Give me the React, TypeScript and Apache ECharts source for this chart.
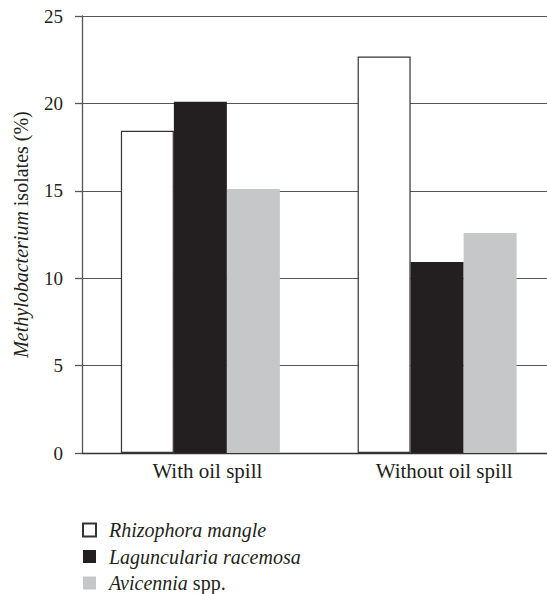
import React, { useEffect, useRef } from "react";
import * as echarts from "echarts";

const categories = ["With oil spill", "Without oil spill"];
const seriesNames = ["Rhizophora mangle", "Laguncularia racemosa", "Avicennia spp."];
const rhizophora = [18.43, 22.68];
const laguncularia = [20.1, 10.92];
const avicennia = [15.11, 12.58];
const yTicks = [0, 5, 10, 15, 20, 25];

const FONT = "'Liberation Serif', 'Times New Roman', serif";
const INK = "#231f20";

export default function App() {
  const ref = useRef<HTMLDivElement>(null);
  useEffect(() => {
    if (!ref.current) return;
    const chart = echarts.init(ref.current, null, { renderer: "svg" });
    const option = {
      animation: false,
      backgroundColor: "#ffffff",
      grid: { left: 82, top: 16, bottom: 141, width: 473.5, containLabel: false },
      legend: {
        orient: "vertical",
        left: 82,
        top: 520,
        padding: 0,
        height: 80,
        itemWidth: 13,
        itemHeight: 13,
        itemGap: 6.5,
        icon: "rect",
        data: seriesNames,
        formatter: (name: string) =>
          name === "Avicennia spp." ? "{i|Avicennia} spp." : "{i|" + name + "}",
        textStyle: {
          fontFamily: FONT,
          fontSize: 20,
          color: INK,
          lineHeight: 20,
          padding: [0, 0, 0, 8],
          rich: {
            i: { fontFamily: FONT, fontSize: 20, fontStyle: "italic", color: INK, lineHeight: 20 },
          },
        },
      },
      xAxis: {
        type: "category",
        data: categories,
        axisLine: { show: true, lineStyle: { color: "#333", width: 1.3 } },
        axisTick: { show: false },
        axisLabel: {
          fontFamily: FONT,
          fontSize: 21,
          color: INK,
          margin: 7,
          padding: [0, 0, 0, 14],
        },
      },
      yAxis: {
        type: "value",
        min: 0,
        max: 25,
        interval: 5,
        name: "{i|Methylobacterium} isolates (%)",
        nameLocation: "middle",
        nameGap: 51,
        nameTextStyle: {
          fontFamily: FONT,
          fontSize: 20,
          color: INK,
          rich: {
            i: { fontFamily: FONT, fontSize: 20, fontStyle: "italic", color: INK },
          },
        },
        axisLine: { show: true, lineStyle: { color: "#555", width: 1.3 } },
        axisTick: { show: true, length: 7, lineStyle: { color: "#555", width: 1.3 } },
        axisLabel: {
          fontFamily: FONT,
          fontSize: 19,
          color: INK,
          margin: 19,
          formatter: (v: number) => (yTicks.includes(v) ? String(v) : ""),
        },
        splitLine: { show: true, lineStyle: { color: "#555", width: 1.2 } },
      },
      series: [
        {
          name: seriesNames[0],
          type: "bar",
          data: rhizophora,
          barGap: "0%",
          barWidth: 53,
          itemStyle: { color: "#ffffff", borderColor: "#333", borderWidth: 1.2 },
        },
        {
          name: seriesNames[1],
          type: "bar",
          data: laguncularia,
          barGap: "0%",
          barWidth: 53,
          itemStyle: { color: INK },
        },
        {
          name: seriesNames[2],
          type: "bar",
          data: avicennia,
          barGap: "0%",
          barWidth: 53,
          itemStyle: { color: "#c6c7c8" },
        },
      ],
    };
    chart.setOption(option as any);
    return () => chart.dispose();
  }, []);
  return (
    <div
      style={{
        position: "absolute",
        left: 0,
        top: 0,
        width: 547,
        height: 594,
        overflow: "hidden",
        background: "#fff",
      }}
    >
      <div ref={ref} style={{ width: 560, height: 594 }} />
    </div>
  );
}
